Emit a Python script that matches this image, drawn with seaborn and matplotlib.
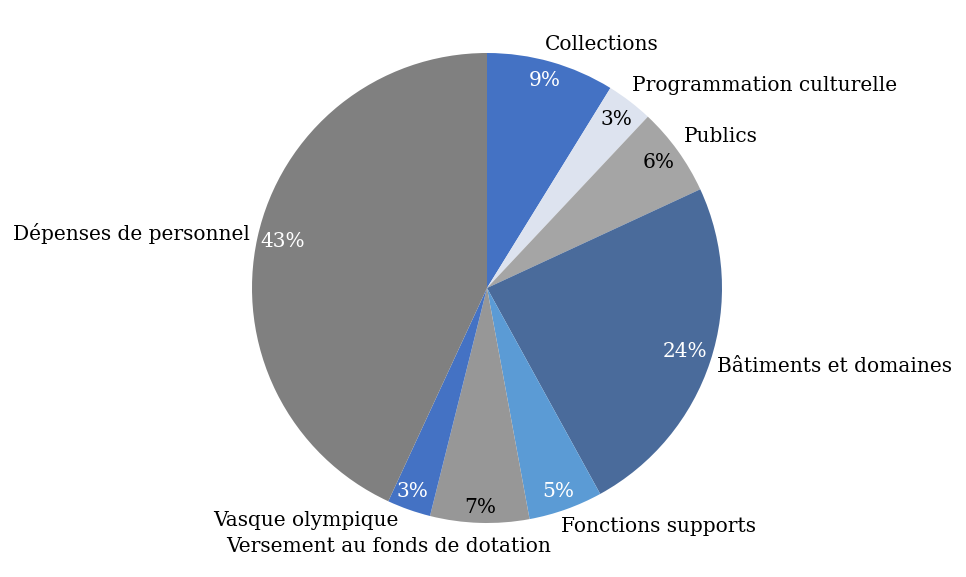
import matplotlib
matplotlib.use("Agg")
import matplotlib.pyplot as plt
import seaborn as sns

categories = ["Collections", "Programmation culturelle", "Publics",
              "Bâtiments et domaines", "Fonctions supports",
              "Versement au fonds de dotation", "Vasque olympique",
              "Dépenses de personnel"]
values = [8.8, 3.2, 6.1, 23.9, 5.1, 6.8, 3.0, 43.1]
pct_labels = ["9%", "3%", "6%", "24%", "5%", "7%", "3%", "43%"]
colors = ["#4472C4", "#DDE3EF", "#A5A5A5", "#4A6B9B", "#5B9BD5",
          "#979797", "#4472C4", "#808080"]
pct_colors = ["white", "black", "black", "white", "white", "black", "white", "white"]

# label placement (pie units, radius = 1)
name_pos = [(0.489, 1.038), (1.179, 0.860), (0.996, 0.643), (1.477, -0.332),
            (0.728, -1.017), (-0.419, -1.098), (-0.770, -0.991), (-1.515, 0.230)]
pct_pos = [(0.247, 0.885), (0.549, 0.715), (0.732, 0.532), (0.843, -0.272),
           (0.302, -0.864), (-0.030, -0.932), (-0.319, -0.864), (-0.868, 0.196)]

sns.set_theme(style="white")
plt.rcParams['font.family'] = ['DejaVu Serif']

fig = plt.figure(figsize=(9.66, 5.77), dpi=100)
ax = fig.add_axes([0, 0, 1, 1])
ax.pie(values, colors=colors, startangle=90, counterclock=False, radius=1,
       wedgeprops=dict(linewidth=0))
ax.set_aspect('auto')
ax.set_xlim(-487 / 235, (966 - 487) / 235)
ax.set_ylim(-(577 - 288) / 235, 288 / 235)
ax.axis('off')

for name, (x, y) in zip(categories, name_pos):
    ax.text(x, y, name, ha='center', va='center', fontsize=14.5, color='black')
for lab, c, (x, y) in zip(pct_labels, pct_colors, pct_pos):
    ax.text(x, y, lab, ha='center', va='center', fontsize=14.5, color=c)

fig.savefig("out.png", dpi=100)
